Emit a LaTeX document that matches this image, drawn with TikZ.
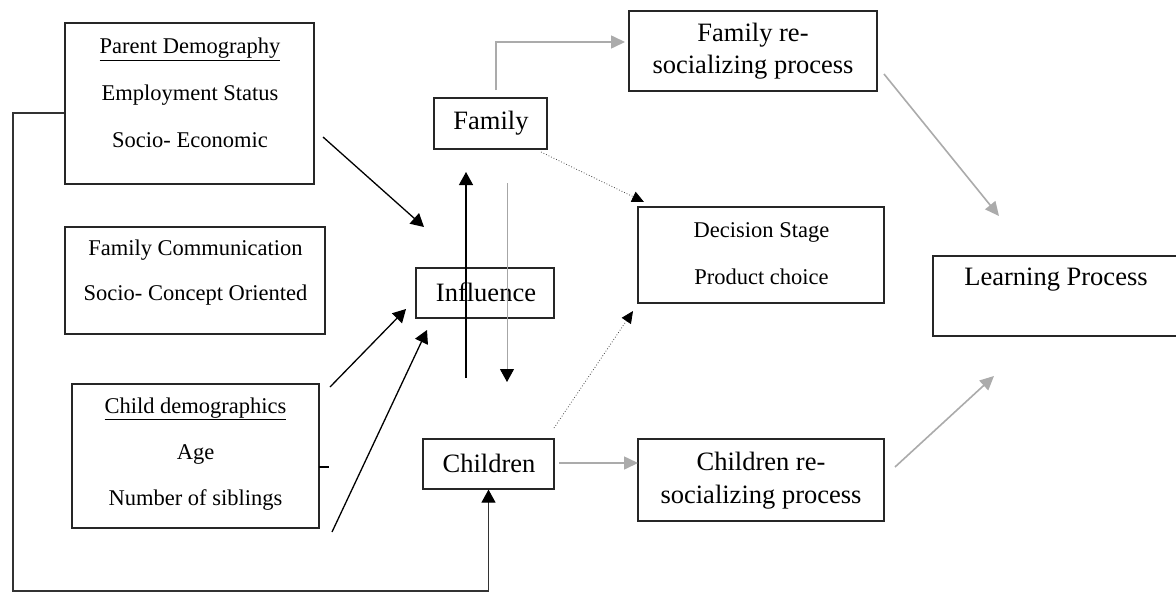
\documentclass[tikz,border=0pt]{standalone}
\usepackage{fontspec}
\setmainfont{Liberation Serif}
\usetikzlibrary{arrows.meta,calc}
\begin{document}
\begin{tikzpicture}[x=1pt,y=-1pt,
  box/.style={draw=black!85,line width=1.2pt,inner sep=0pt},
  small/.style={font=\fontsize{22.5}{46}\selectfont,inner sep=0pt,align=center},
  big/.style={font=\fontsize{26.5}{32}\selectfont,inner sep=0pt,align=center},
  blk/.style={draw=black,line width=1.3pt,-{Triangle[length=13pt,width=14pt]}},
  thinblk/.style={draw=black!35,line width=1pt,-{Triangle[length=13pt,width=14pt,color=black]}},
  gry/.style={draw=black!33,line width=1.6pt,-{Triangle[length=14pt,width=13pt]}},
  dots/.style={draw=black!70,line width=0.8pt,dotted,-{Triangle[length=12pt,width=11pt,color=black]}}
]
\useasboundingbox (0,0) rectangle (1176,592);
\fill[white] (0,0) rectangle (1176,592);

% boxes
\node[box,minimum width=249pt,minimum height=161pt] (parent) at (189.5,103.5) {};
\node[box,minimum width=260pt,minimum height=107pt] (famcomm) at (195,280.5) {};
\node[box,minimum width=247pt,minimum height=144pt] (child) at (195.5,456) {};
\node[box,minimum width=113pt,minimum height=51pt] (family) at (490.5,123.5) {};
\node[box,minimum width=138pt,minimum height=50pt] (influence) at (485,293) {};
\node[box,minimum width=131pt,minimum height=50pt] (children) at (488.5,464) {};
\node[box,minimum width=248pt,minimum height=80pt] (famre) at (753,51) {};
\node[box,minimum width=246pt,minimum height=96pt] (decision) at (761,255) {};
\node[box,minimum width=246pt,minimum height=82pt] (childre) at (761,480) {};
\node[box,minimum width=257pt,minimum height=80pt] (learning) at (1061.5,296) {};

% texts
\node[small,font=\fontsize{22.5}{47}\selectfont] (parentT) at (190,93) {\underline{Parent Demography}\\Employment Status\\Socio- Economic};
\node[small,font=\fontsize{22.5}{45}\selectfont] (famcommT) at (195.5,272.5) {Family Communication\\Socio- Concept Oriented};
\node[small,font=\fontsize{22.5}{46}\selectfont] (childT) at (195.5,454) {\underline{Child demographics}\\Age\\Number of siblings};
\node[big] (familyT) at (491,123) {Family};
\node[big] (influenceT) at (486,292) {Influence};
\node[big] (childrenT) at (489,463) {Children};
\node[big] (famreT) at (753,51) {Family re-\\socializing process};
\node[small,font=\fontsize{22.5}{47}\selectfont] (decisionT) at (761.5,253.5) {Decision Stage\\Product choice};
\node[big,font=\fontsize{26.5}{33}\selectfont] (childreT) at (761,480.5) {Children re-\\socializing process};
\node[big] (learningT) at (1056,280) {Learning Process};

% free connector ends
\coordinate (pa) at (323,137);
\coordinate (ia) at (424,227);
\coordinate (ca) at (330,387);
\coordinate (ib) at (406,309);
\coordinate (cb) at (332,532);
\coordinate (ic) at (427,330);
\coordinate (upS) at (466,378);
\coordinate (upE) at (466,172);
\coordinate (dnS) at (507,183);
\coordinate (dnE) at (507,382);
\coordinate (fa) at (496,90);
\coordinate (fb) at (496,42);
\coordinate (fc) at (625,42);
\coordinate (ra) at (884,74);
\coordinate (la) at (999,216);
\coordinate (fd) at (541,152);
\coordinate (da) at (644,202);
\coordinate (cd) at (554,428);
\coordinate (db) at (633,311);
\coordinate (cr) at (559,463);
\coordinate (rr) at (638,463);
\coordinate (rb) at (895,467);
\coordinate (lb) at (994,376);
\coordinate (t1) at (319,467);
\coordinate (t2) at (329,467);

% connectors
\draw[blk] (pa) -- (ia);
\draw[blk] (ca) -- (ib);
\draw[blk] (cb) -- (ic);
\draw[blk] (upS) -- (upE);
\draw[thinblk] (dnS) -- (dnE);
\draw[gry] (fa) -- (fb) -- (fc);
\draw[gry] (ra) -- (la);
\draw[dots] (fd) -- (da);
\draw[dots] (cd) -- (db);
\draw[gry] (cr) -- (rr);
\draw[gry] (rb) -- (lb);
\draw[black,line width=2.5pt] (t1) -- (t2);
\draw[draw=black!80,line width=1.2pt,-{Triangle[length=13pt,width=14pt,color=black]}]
  (parent.west |- 0,113) -- (13,113) -- (13,591) -- (children.south |- 0,591) -- (children.south);
\end{tikzpicture}
\end{document}
